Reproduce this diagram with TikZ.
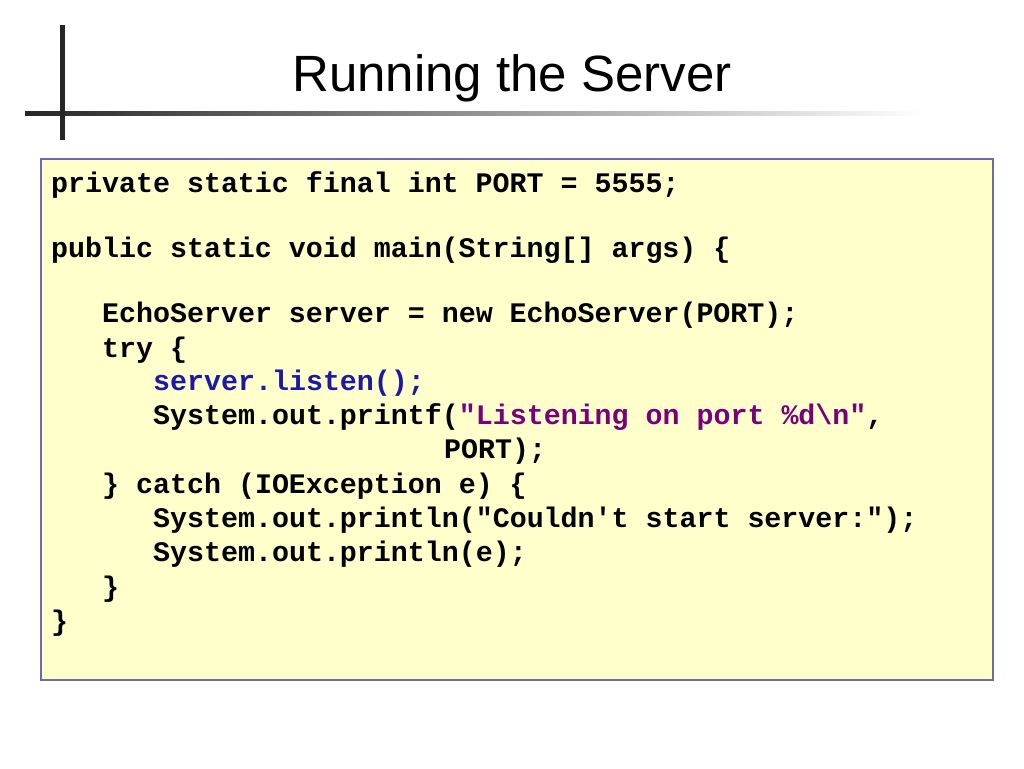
\documentclass[tikz,border=0pt]{standalone}
\usepackage{fontspec}
\setmainfont{Liberation Sans}
\setmonofont{Liberation Mono}
\definecolor{boxfill}{HTML}{FFFFCC}
\definecolor{boxline}{HTML}{6B6BA8}
\definecolor{kwblue}{HTML}{1A1AA6}
\definecolor{strpurple}{HTML}{7A007A}
\begin{document}
\begin{tikzpicture}[x=1pt,y=-1pt,
  code/.style={anchor=base west,inner sep=0pt,font=\fontsize{28.3}{30}\selectfont\ttfamily\bfseries}]
\useasboundingbox (0,0) rectangle (1024,768);
\fill[white] (0,0) rectangle (1024,768);
\shade[left color=black!85,right color=white] (25,111) rectangle (925,115.5);
\fill[black!85] (60,25) rectangle (64.5,140);
\node[font=\fontsize{51}{55}\selectfont] (title) at (512,78) {Running the Server};
\draw[boxline,fill=boxfill,line width=1.3] (41,159) rectangle (993,680);
\node[code] (l1) at (51,192) {private static final int PORT = 5555;};
\node[code] (l2) at (51,257) {public static void main(String[] args) \{};
\node[code] (l3) at (102,322) {EchoServer server = new EchoServer(PORT);};
\node[code] (l4) at (102,357) {try \{};
\node[code,text=kwblue] (l5) at (153,390) {server.listen();};
\node[code] (l6) at (153,424) {System.out.printf(\textcolor{strpurple}{"Listening on port \%d\textbackslash n"},};
\node[code] (l7) at (444,458) {PORT);};
\node[code] (l8) at (102,493) {\} catch (IOException e) \{};
\node[code] (l9) at (153,527) {System.out.println("Couldn't start server:");};
\node[code] (l10) at (153,561) {System.out.println(e);};
\node[code] (l11) at (102,596) {\}};
\node[code] (l12) at (51,630) {\}};
\end{tikzpicture}
\end{document}
